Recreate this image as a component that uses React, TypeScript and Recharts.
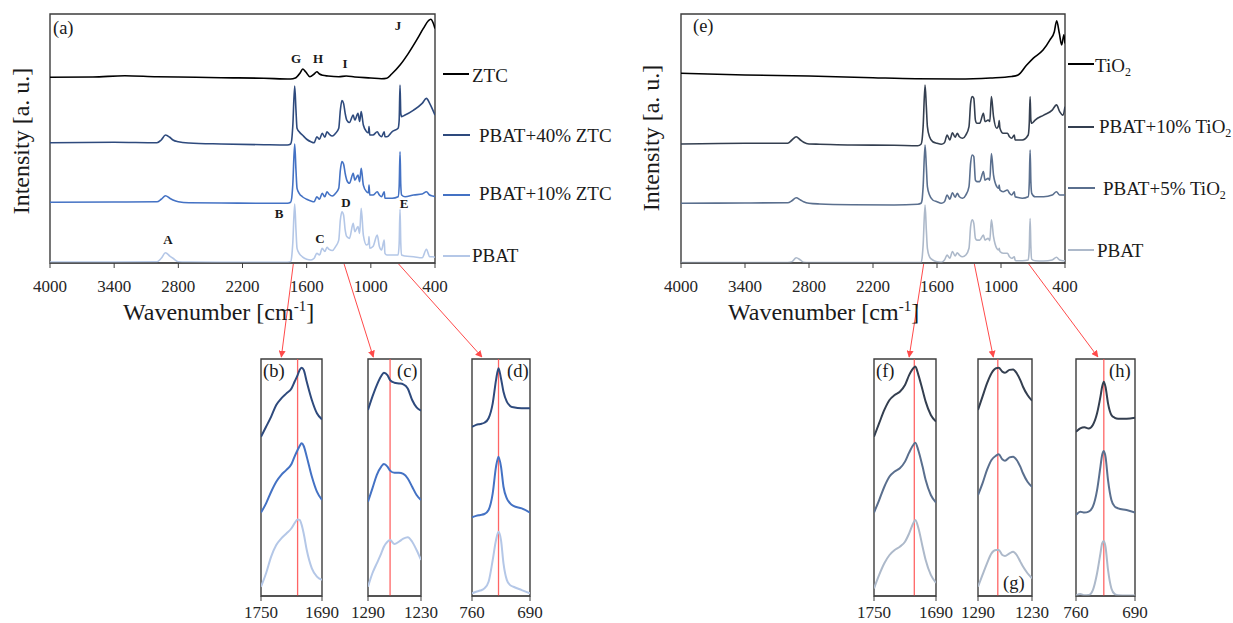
import { LineChart, Line, XAxis, YAxis, ReferenceArea, ReferenceLine } from "recharts";

const FONT = "'Liberation Serif', 'Times New Roman', serif";
const FRAME = "#3c3c3c";
const RED = "#ff4a4a";

// ---- main spectra (a) and (e): shared wavenumber grid of the PBAT films ----
const filmWn = [
  4000, 3400, 3000, 2960, 2920, 2880, 2850, 2800, 2700, 2400,
  2000, 1780, 1750, 1740, 1730, 1712, 1700, 1690, 1670, 1640,
  1600, 1560, 1530, 1505, 1480, 1455, 1430, 1410, 1390, 1360,
  1330, 1300, 1285, 1270, 1255, 1240, 1225, 1200, 1165, 1150,
  1120, 1105, 1090, 1070, 1040, 1022, 1017, 1010, 980, 940,
  920, 900, 875, 868, 850, 800, 745, 735, 727, 720,
  712, 680, 600, 520, 480, 450, 420, 400,
];
const pbat40Ztc = [
  48.3, 48.5, 48.3, 49.4, 51.4, 50.5, 49.4, 48.7, 48.2, 47.8,
  47.5, 47.4, 47.8, 49.4, 54.8, 71.1, 61.4, 54.1, 52.7, 51.4,
  49.7, 48.7, 48.3, 50.7, 49.7, 52.1, 50.5, 52.7, 51.8, 51.0,
  52.1, 54.1, 61.4, 65.2, 64.1, 60.1, 57.4, 56.4, 59.4, 57.4,
  60.1, 56.8, 60.8, 55.4, 52.7, 52.3, 54.8, 51.4, 51.4, 52.7,
  51.4, 50.7, 52.7, 50.7, 50.7, 52.8, 54.1, 57.4, 71.5, 60.1,
  58.8, 59.4, 61.4, 64.1, 66.1, 64.1, 61.4, 59.4,
];
const pbat10Ztc = [
  24.4, 24.5, 24.6, 25.6, 27.0, 26.0, 25.3, 24.6, 24.2, 24.1,
  24.0, 24.0, 24.4, 26.0, 31.3, 47.8, 37.3, 30.0, 28.0, 26.6,
  25.6, 24.9, 24.6, 26.6, 25.6, 28.0, 26.6, 28.6, 27.6, 26.9,
  28.0, 30.0, 37.3, 40.7, 39.8, 36.0, 33.3, 32.0, 36.0, 33.3,
  35.3, 32.7, 38.0, 31.3, 28.6, 28.2, 31.3, 27.3, 27.3, 28.6,
  27.3, 26.6, 28.6, 26.0, 26.0, 26.0, 26.6, 30.7, 44.7, 31.3,
  27.3, 26.6, 27.3, 27.7, 28.6, 27.3, 26.9, 26.6,
];
const pbatLeft = [
  0.4, 0.4, 0.5, 1.9, 4.1, 2.8, 1.9, 0.5, 0.4, 0.3,
  0.3, 0.3, 0.5, 2.5, 7.9, 23.7, 13.3, 5.9, 3.9, 2.5,
  1.5, 1.2, 1.9, 3.9, 3.2, 5.9, 4.6, 6.3, 5.5, 5.0,
  6.6, 9.2, 17.3, 20.6, 19.3, 13.3, 10.6, 9.9, 15.9, 12.6,
  14.6, 11.9, 22.0, 11.2, 7.2, 7.9, 10.6, 5.9, 6.6, 11.2,
  6.6, 5.2, 9.2, 3.9, 3.2, 3.2, 3.2, 7.9, 21.6, 7.9,
  3.2, 2.8, 2.5, 2.1, 5.5, 2.5, 2.5, 2.3,
];
const pbat10Tio2 = [
  47.8, 48.1, 48.1, 49.4, 50.7, 49.4, 48.5, 47.8, 47.7, 47.4,
  47.3, 47.1, 47.7, 49.4, 54.8, 71.5, 62.8, 54.8, 50.7, 48.7,
  48.1, 47.7, 48.3, 51.4, 49.4, 52.3, 50.5, 52.1, 50.7, 50.1,
  51.4, 54.8, 64.1, 66.8, 66.1, 57.4, 56.1, 56.1, 60.1, 56.8,
  57.4, 56.8, 66.8, 58.8, 54.1, 55.4, 57.2, 54.1, 52.1, 52.1,
  50.7, 50.1, 51.4, 49.4, 49.4, 49.4, 51.4, 56.1, 66.8, 57.4,
  56.1, 57.4, 59.4, 61.4, 63.5, 60.8, 59.4, 62.8,
];
const pbat5Tio2 = [
  24.0, 24.1, 24.2, 25.0, 26.2, 25.3, 24.6, 24.0, 23.7, 23.4,
  23.3, 23.6, 24.0, 25.3, 30.7, 47.4, 38.7, 30.7, 27.3, 25.3,
  24.6, 24.0, 24.6, 27.3, 25.6, 28.2, 26.4, 28.0, 26.6, 26.0,
  27.3, 30.7, 40.0, 43.4, 42.7, 33.3, 32.7, 32.7, 36.7, 33.3,
  34.0, 33.3, 44.0, 35.3, 30.7, 30.0, 31.3, 29.3, 28.6, 29.3,
  28.0, 27.3, 28.6, 26.6, 26.4, 26.0, 26.6, 32.0, 45.4, 32.7,
  28.0, 26.6, 26.6, 27.3, 28.6, 27.3, 27.3, 27.3,
];
const pbatRight = [
  0.2, 0.2, 0.2, 0.5, 2.1, 1.2, 0.3, 0.2, 0.2, 0.2,
  0.2, 0.2, 0.2, 1.9, 7.2, 23.3, 13.3, 5.9, 2.5, 1.2,
  0.5, 0.3, 1.2, 3.2, 1.9, 4.6, 2.8, 4.1, 3.2, 2.5,
  3.2, 5.9, 14.6, 17.3, 15.9, 9.9, 9.2, 9.2, 11.2, 9.2,
  9.9, 9.0, 17.3, 10.6, 5.9, 5.2, 5.9, 4.6, 3.9, 3.9,
  2.5, 1.9, 2.5, 1.2, 0.9, 0.9, 1.2, 5.9, 17.9, 6.6,
  1.5, 0.9, 0.8, 1.2, 2.3, 1.2, 0.9, 0.9,
];

const ztcWn = [4000, 3600, 3300, 3000, 2800, 2400, 2000, 1750, 1706, 1660, 1637, 1610, 1570, 1530, 1505, 1480, 1450, 1400, 1300, 1230, 1150, 1000, 900, 851, 805, 727, 649, 571, 509, 462, 440, 416, 400];
const ztc = [74.6, 74.7, 75.2, 74.8, 74.7, 74.4, 74.2, 73.9, 74.3, 76.4, 77.9, 76.8, 74.8, 75.9, 76.8, 75.9, 75.4, 75.1, 74.8, 75.1, 74.7, 74.3, 74.0, 74.2, 75.9, 79.5, 84.2, 89.6, 94.2, 97.3, 97.9, 96.3, 94.2];
const tio2Wn = [4000, 3400, 2800, 2200, 1800, 1400, 1100, 900, 840, 759, 699, 606, 541, 500, 478, 453, 431, 410, 400];
const tio2 = [76.2, 75.5, 75.1, 74.4, 74.0, 73.9, 74.3, 74.9, 75.5, 79.5, 82.2, 85.5, 89.6, 92.9, 97.3, 92.2, 87.6, 91.6, 88.2];

const mainTicks = [4000, 3400, 2800, 2200, 1600, 1000, 400];

// ---- zoomed insets ----
const bWn = [1750, 1745, 1740, 1735, 1730, 1725, 1720, 1717, 1714, 1712, 1710, 1708, 1705, 1700, 1695, 1690];
const b40 = [67.2, 71.4, 75.7, 80.6, 83.4, 85.5, 87.6, 90.4, 93.2, 95.4, 96.3, 95.4, 90.4, 82.7, 77.1, 74.5];
const b10 = [35.2, 39.1, 44.0, 48.2, 51.1, 53.2, 55.7, 58.8, 61.6, 63.3, 64.4, 63.3, 58.8, 50.4, 44.0, 40.5];
const bP = [3.9, 9.6, 16.6, 21.5, 24.3, 26.4, 28.6, 30.7, 32.3, 32.1, 30.0, 26.4, 19.4, 11.7, 8.2, 6.8];

const cWn = [1290, 1285, 1280, 1275, 1272, 1268, 1265, 1260, 1255, 1250, 1245, 1240, 1235, 1230];
const c40 = [78.5, 84.1, 89.0, 92.8, 94.2, 93.2, 91.1, 90.0, 89.7, 89.3, 87.6, 82.7, 79.6, 78.2];
const c10 = [39.8, 45.4, 51.1, 54.6, 55.7, 54.6, 52.9, 52.0, 52.0, 51.5, 49.6, 46.1, 42.6, 40.5];
const cP = [3.9, 9.6, 13.8, 18.0, 20.8, 22.9, 23.6, 21.9, 22.9, 24.2, 24.8, 22.9, 19.4, 15.2];

const dWn = [760, 755, 750, 745, 740, 735, 731, 728, 725, 722, 718, 714, 710, 700, 690];
const d40 = [71.4, 72.2, 72.6, 73.1, 75.0, 81.3, 91.1, 96.1, 91.8, 86.2, 82.0, 80.2, 79.6, 79.2, 79.2];
const d10 = [33.2, 33.8, 34.2, 34.6, 36.3, 43.3, 54.6, 58.8, 54.6, 46.1, 41.2, 39.1, 38.0, 37.0, 35.2];
const dP = [1.1, 1.8, 2.3, 3.2, 6.0, 15.2, 23.6, 27.1, 23.6, 13.8, 6.8, 4.6, 3.9, 2.5, 1.1];

const fWn = [1750, 1745, 1740, 1735, 1730, 1725, 1720, 1716, 1712, 1710, 1707, 1703, 1700, 1695, 1690];
const f10 = [67.2, 72.9, 78.5, 82.7, 84.8, 86.2, 89.0, 93.2, 96.1, 96.8, 93.2, 86.9, 82.0, 76.4, 73.6];
const f5 = [35.2, 40.5, 46.1, 50.4, 52.5, 53.9, 56.7, 60.5, 63.7, 64.7, 61.3, 54.6, 48.9, 42.6, 39.4];
const fP = [3.2, 8.9, 13.8, 17.3, 19.4, 20.8, 22.9, 26.4, 30.7, 32.1, 28.6, 20.8, 15.2, 8.9, 5.6];

const gWn = [1290, 1285, 1280, 1275, 1270, 1267, 1263, 1260, 1255, 1251, 1247, 1243, 1240, 1235, 1230];
const g10 = [78.5, 84.1, 89.7, 94.0, 96.1, 96.3, 94.7, 94.2, 95.4, 95.6, 94.0, 91.1, 88.3, 84.8, 82.4];
const g5 = [42.6, 47.5, 53.2, 57.4, 59.2, 59.8, 57.7, 57.1, 58.5, 58.8, 57.4, 54.6, 51.8, 48.2, 46.1];
const gP = [3.9, 8.9, 13.8, 18.0, 19.4, 19.4, 17.3, 16.9, 18.0, 18.7, 17.3, 14.5, 12.4, 9.6, 7.5];

const hWn = [760, 755, 750, 745, 740, 735, 731, 729, 727, 725, 722, 718, 714, 710, 700, 690];
const h10 = [69.3, 70.7, 71.2, 70.7, 72.2, 77.1, 84.1, 88.3, 90.4, 88.3, 81.3, 76.4, 75.2, 74.8, 74.8, 75.2];
const h5 = [34.2, 35.6, 35.2, 35.6, 37.7, 44.7, 54.6, 59.5, 61.2, 58.8, 48.9, 40.5, 37.7, 37.0, 36.3, 35.2];
const hP = [0.2, 0.8, 0.3, 0.4, 2.5, 9.6, 18.0, 22.2, 23.2, 20.8, 11.0, 3.2, 0.8, 0.3, 0.2, 0.2];

// red marker lines in the insets and where the arrows leave the main plots
const insetRefs = [1714, 1265, 728, 1711, 1268, 727];
const arrowFromWn = [1725, 1250, 740];
const arrowToWn = [1730, 1284, 748, 1716, 1273, 734];

const C = {
  ztc: "#000000",
  z40: "#2e4a7d",
  z10: "#4472c4",
  pbL: "#b4c7e7",
  tio2: "#000000",
  t10: "#343f50",
  t5: "#5a6f8e",
  pbR: "#adb9ca",
};

type Box = { l: number; t: number; r: number; b: number };
type Series = { key: string; wn: number[]; val: number[]; color: string };

const toPts = (wn: number[], val: number[]) => wn.map((x, i) => ({ x, y: val[i] }));

function SerifTick(props: any) {
  const { x, y, payload, dy } = props;
  return (
    <text x={x} y={y} dy={dy} textAnchor="middle" fontFamily={FONT} style={{ fontFamily: FONT }} fontSize={17} fill="#262626">
      {payload.value}
    </text>
  );
}

function Spectrum({ box, domain, ticks, series, refX, lw, tickDy }: { box: Box; domain: [number, number]; ticks: number[]; series: Series[]; refX?: number; lw: number; tickDy: number }) {
  const mL = 34, mR = 34, mT = 4, axisH = 36;
  const w = box.r - box.l;
  const h = box.b - box.t;
  return (
    <div style={{ position: "absolute", left: box.l - mL, top: box.t - mT }}>
      <LineChart width={w + mL + mR} height={h + mT + axisH} margin={{ top: mT, right: mR, bottom: 0, left: mL }} style={{ fontFamily: FONT }}>
        <XAxis
          type="number"
          dataKey="x"
          domain={domain}
          reversed
          allowDataOverflow
          ticks={ticks}
          interval={0}
          height={axisH}
          tickSize={5}
          tickMargin={4}
          stroke={FRAME}
          tick={<SerifTick dy={tickDy} />}
        />
        <YAxis type="number" domain={[0, 100]} hide allowDataOverflow />
        <ReferenceArea x1={domain[0]} x2={domain[1]} y1={0} y2={100} fill="none" stroke={FRAME} strokeWidth={1.4} />
        {refX !== undefined && <ReferenceLine x={refX} stroke={RED} strokeWidth={1.3} strokeOpacity={0.85} />}
        {series.map((s) => (
          <Line
            key={s.key}
            data={toPts(s.wn, s.val)}
            dataKey="y"
            type="monotone"
            stroke={s.color}
            strokeWidth={lw}
            dot={false}
            activeDot={false}
            isAnimationActive={false}
          />
        ))}
      </LineChart>
    </div>
  );
}

const boxA: Box = { l: 50, t: 14, r: 435, b: 263 };
const boxE: Box = { l: 681, t: 14, r: 1065, b: 263 };
const insetTop = 359;
const insetBottom = 596;
const insetBoxes: Box[] = [
  { l: 261, t: insetTop, r: 322, b: insetBottom },
  { l: 368, t: insetTop, r: 421, b: insetBottom },
  { l: 472, t: insetTop, r: 530, b: insetBottom },
  { l: 874, t: insetTop, r: 936, b: insetBottom },
  { l: 978, t: insetTop, r: 1032, b: insetBottom },
  { l: 1076, t: insetTop, r: 1135, b: insetBottom },
];
const insetDomains: [number, number][] = [
  [1690, 1750], [1230, 1290], [690, 760], [1690, 1750], [1230, 1290], [690, 760],
];
const insetTicks = [[1750, 1690], [1290, 1230], [760, 690], [1750, 1690], [1290, 1230], [760, 690]];
const insetSeries: Series[][] = [
  [{ key: "p", wn: bWn, val: bP, color: C.pbL }, { key: "10", wn: bWn, val: b10, color: C.z10 }, { key: "40", wn: bWn, val: b40, color: C.z40 }],
  [{ key: "p", wn: cWn, val: cP, color: C.pbL }, { key: "10", wn: cWn, val: c10, color: C.z10 }, { key: "40", wn: cWn, val: c40, color: C.z40 }],
  [{ key: "p", wn: dWn, val: dP, color: C.pbL }, { key: "10", wn: dWn, val: d10, color: C.z10 }, { key: "40", wn: dWn, val: d40, color: C.z40 }],
  [{ key: "p", wn: fWn, val: fP, color: C.pbR }, { key: "5", wn: fWn, val: f5, color: C.t5 }, { key: "10", wn: fWn, val: f10, color: C.t10 }],
  [{ key: "p", wn: gWn, val: gP, color: C.pbR }, { key: "5", wn: gWn, val: g5, color: C.t5 }, { key: "10", wn: gWn, val: g10, color: C.t10 }],
  [{ key: "p", wn: hWn, val: hP, color: C.pbR }, { key: "5", wn: hWn, val: h5, color: C.t5 }, { key: "10", wn: hWn, val: h10, color: C.t10 }],
];
const insetLabels = ["(b)", "(c)", "(d)", "(f)", "(g)", "(h)"];
const insetLabelPos = [[263, 377], [397, 377], [507, 377], [876, 377], [1003, 589], [1109, 377]];

const mainX = (box: Box, wn: number) => box.l + ((4000 - wn) / 3600) * (box.r - box.l);
const insetX = (i: number, wn: number) => {
  const bx = insetBoxes[i];
  const [lo, hi] = insetDomains[i];
  return bx.l + ((hi - wn) / (hi - lo)) * (bx.r - bx.l);
};

const peakLetters = [
  ["A", 168, 244], ["B", 279, 218], ["C", 320, 243], ["D", 346, 206.5], ["E", 404, 208],
  ["G", 296, 63], ["H", 318, 63], ["I", 345, 67.5], ["J", 398, 30],
] as const;

export default function App() {
  const txt = { fontFamily: FONT, fill: "#1a1a1a" } as const;
  return (
    <div style={{ position: "absolute", left: 0, top: 0, width: 1233, height: 623, background: "#fff", overflow: "hidden", fontFamily: FONT }}>
      <Spectrum
        box={boxA}
        domain={[400, 4000]}
        ticks={mainTicks}
        lw={1.6}
        tickDy={20}
        series={[
          { key: "pbat", wn: filmWn, val: pbatLeft, color: C.pbL },
          { key: "z10", wn: filmWn, val: pbat10Ztc, color: C.z10 },
          { key: "z40", wn: filmWn, val: pbat40Ztc, color: C.z40 },
          { key: "ztc", wn: ztcWn, val: ztc, color: C.ztc },
        ]}
      />
      <Spectrum
        box={boxE}
        domain={[400, 4000]}
        ticks={mainTicks}
        lw={1.6}
        tickDy={20}
        series={[
          { key: "pbat", wn: filmWn, val: pbatRight, color: C.pbR },
          { key: "t5", wn: filmWn, val: pbat5Tio2, color: C.t5 },
          { key: "t10", wn: filmWn, val: pbat10Tio2, color: C.t10 },
          { key: "tio2", wn: tio2Wn, val: tio2, color: C.tio2 },
        ]}
      />
      {insetBoxes.map((bx, i) => (
        <Spectrum key={i} box={bx} domain={insetDomains[i]} ticks={insetTicks[i]} series={insetSeries[i]} refX={insetRefs[i]} lw={2} tickDy={13} />
      ))}

      <svg width={1233} height={623} style={{ position: "absolute", left: 0, top: 0, pointerEvents: "none", fontFamily: FONT }}>
        <defs>
          <marker id="arr" viewBox="0 0 10 10" refX="9" refY="5" markerWidth="7" markerHeight="7" orient="auto">
            <path d="M0,0 L10,5 L0,10 z" fill={RED} />
          </marker>
        </defs>
        {[boxA, boxE].map((bx, p) =>
          arrowFromWn.map((wn, k) => {
            const i = p * 3 + k;
            return (
              <line
                key={`a${i}`}
                x1={mainX(bx, wn)}
                y1={bx.b + 1}
                x2={insetX(i, arrowToWn[i])}
                y2={insetTop - 2}
                stroke={RED}
                strokeWidth={1}
                markerEnd="url(#arr)"
              />
            );
          }),
        )}

        <text x={53} y={33.5} fontSize={18.5} {...txt}>(a)</text>
        <text x={693} y={32} fontSize={18.5} {...txt}>(e)</text>
        {peakLetters.map(([s, x, y]) => (
          <text key={s} x={x} y={y} fontSize={13} fontWeight="bold" textAnchor="middle" {...txt}>{s}</text>
        ))}

        <text x={29} y={141} fontSize={24} textAnchor="middle" transform="rotate(-90 29 141)" {...txt}>Intensity [a. u.]</text>
        <text x={659} y={138} fontSize={24} textAnchor="middle" transform="rotate(-90 659 138)" {...txt}>Intensity [a. u.]</text>
        <text x={123} y={320} fontSize={24} {...txt}>
          Wavenumber [cm<tspan fontSize={15} dy={-9}>-1</tspan><tspan dy={9}>]</tspan>
        </text>
        <text x={728} y={320} fontSize={24} {...txt}>
          Wavenumber [cm<tspan fontSize={15} dy={-9}>-1</tspan><tspan dy={9}>]</tspan>
        </text>

        {/* legend, panel (a) */}
        <line x1={443} x2={469} y1={74} y2={74} stroke={C.ztc} strokeWidth={2} />
        <text x={472} y={81.5} fontSize={19} {...txt}>ZTC</text>
        <line x1={443} x2={470} y1={135} y2={135} stroke={C.z40} strokeWidth={2} />
        <text x={479} y={141.5} fontSize={19} {...txt}>PBAT+40% ZTC</text>
        <line x1={443} x2={470} y1={195} y2={195} stroke={C.z10} strokeWidth={2} />
        <text x={479} y={200} fontSize={19} {...txt}>PBAT+10% ZTC</text>
        <line x1={443} x2={470} y1={256} y2={256} stroke={C.pbL} strokeWidth={2} />
        <text x={472} y={261.5} fontSize={19} {...txt}>PBAT</text>

        {/* legend, panel (e) */}
        <line x1={1068} x2={1094} y1={64} y2={64} stroke={C.tio2} strokeWidth={2} />
        <text x={1095} y={71.5} fontSize={19} {...txt}>TiO<tspan fontSize={12} dy={4}>2</tspan></text>
        <line x1={1068} x2={1094} y1={127} y2={127} stroke={C.t10} strokeWidth={2} />
        <text x={1099} y={132.5} fontSize={19} {...txt}>PBAT+10% TiO<tspan fontSize={12} dy={4}>2</tspan></text>
        <line x1={1068} x2={1095} y1={188} y2={188} stroke={C.t5} strokeWidth={2} />
        <text x={1103} y={194.5} fontSize={19} {...txt}>PBAT+5% TiO<tspan fontSize={12} dy={4}>2</tspan></text>
        <line x1={1068} x2={1094} y1={250} y2={250} stroke={C.pbR} strokeWidth={2} />
        <text x={1097} y={256.5} fontSize={19} {...txt}>PBAT</text>

        {insetLabels.map((s, i) => (
          <text key={s} x={insetLabelPos[i][0]} y={insetLabelPos[i][1]} fontSize={18.5} {...txt}>{s}</text>
        ))}
      </svg>
    </div>
  );
}
